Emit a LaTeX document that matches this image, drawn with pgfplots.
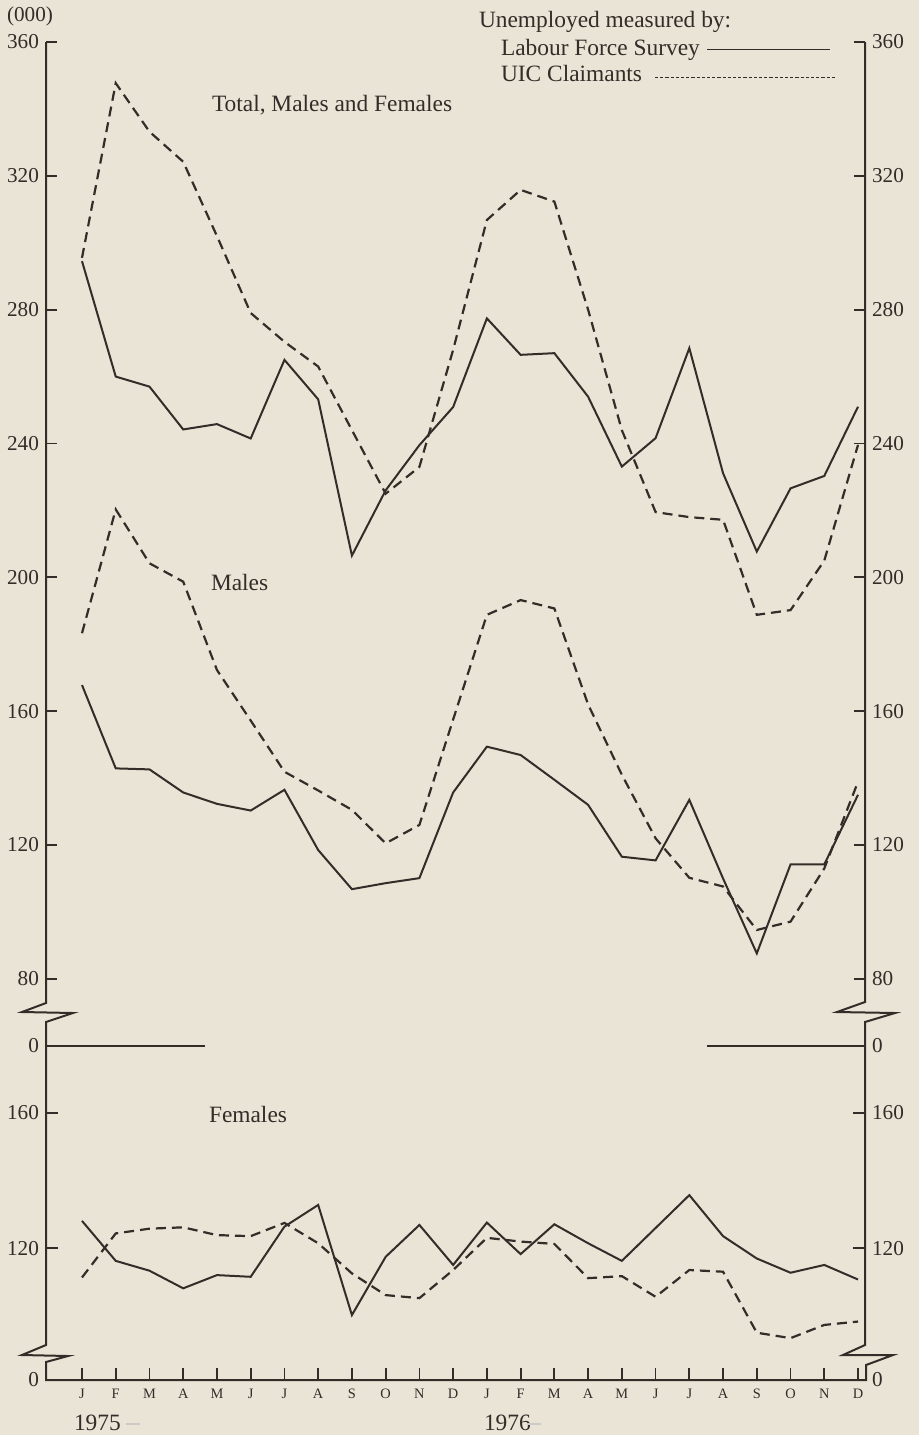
\documentclass[border=0pt]{standalone}
\usepackage{pgfplots}
\usepackage{pgfplotstable}
\pgfplotsset{compat=1.18}
\usepackage{fontspec}
\setmainfont{Liberation Serif}
\definecolor{paper}{RGB}{234,228,214}
\definecolor{ink}{RGB}{50,45,41}
\newcommand\ft{\fontsize{11.7}{13.5}\selectfont}
\newcommand\fn{\fontsize{10.6}{12}\selectfont}

% m: month index (0 = Jan 1975 ... 23 = Dec 1976)
% tl/tu: total LFS / UIC; ml/mu: males; fl/fu: females (thousands)
\pgfplotstableread{
m  tl    tu    ml    mu    fl    fu
0  294.5 295.5 167.8 183.3 128.1 111.4
1  260.0 347.7 142.9 220.3 116.3 124.4
2  257.0 333.2 142.6 204.2 113.4 125.8
3  244.2 324.2 135.7 198.7 108.2 126.2
4  245.8 302.0 132.3 172.3 112.1 123.9
5  241.5 279.0 130.3 157.2 111.6 123.6
6  265.0 270.4 136.5 141.9 126.4 127.5
7  253.2 263.0 118.5 136.3 132.8 121.5
8  206.5 244.0 106.8 130.5 100.3 112.6
9  226.0 225.0 108.6 120.5 117.5 106.2
10 239.5 233.0 110.1 126.0 126.9 105.3
11 250.9 268.0 135.7 157.5 115.1 113.6
12 277.4 306.8 149.4 188.8 127.6 123.1
13 266.5 315.8 146.9 193.2 118.3 122.0
14 267.0 312.3 139.5 190.7 127.1 121.3
15 254.0 280.0 132.0 162.0 121.5 111.2
16 233.1 244.0 116.5 141.0 116.3 111.8
17 241.6 219.5 115.4 122.0 126.0 105.7
18 268.5 218.0 133.5 110.2 135.7 113.6
19 231.1 217.2 110.0 107.6 123.6 113.1
20 207.7 188.8  87.6  94.6 117.0  95.1
21 226.6 190.2 114.2  97.1 112.8  93.5
22 230.3 205.0 114.2 113.0 115.1  97.4
23 251.0 239.6 135.0 138.9 110.8  98.4
}\data

\pgfplotsset{
  panel/.style={
    scale only axis, width=409.5pt,
    xmin=-1.067, xmax=23.207,
    axis line style={draw=none},
    tick align=inside,
    every tick/.style={ink, line width=0.9pt},
    yticklabel style={font=\fn, text=ink},
    xticklabel style={text=ink},
    /pgf/number format/assume math mode=true,
    clip=false,
  },
  lfs/.style={ink, line width=1pt, line join=miter},
  uic/.style={ink, line width=1.1pt, dash pattern=on 5pt off 3pt},
}

\begin{document}
\begin{tikzpicture}
\fill[paper] (0,0) rectangle (459.5pt,-717.5pt);

% ---------- upper panel: total and males ----------
\begin{axis}[panel,
  at={(23pt,-21pt)}, anchor=north west, height=481.8pt,
  ymin=72, ymax=360,
  xtick=\empty,
  ytick={80,120,...,360},
  ytick pos=both, yticklabel pos=left,
  major tick length=5.5pt,
]
\addplot[lfs] table[x=m,y=tl]{\data};
\addplot[uic] table[x=m,y=tu]{\data};
\addplot[lfs] table[x=m,y=ml]{\data};
\addplot[uic] table[x=m,y=mu]{\data};
\end{axis}
\begin{axis}[panel,
  at={(23pt,-21pt)}, anchor=north west, height=481.8pt,
  ymin=72, ymax=360,
  xtick=\empty,
  ytick={80,120,...,360},
  ytick pos=right, yticklabel pos=right,
  major tick length=0pt,
]
\addplot[draw=none] coordinates {(0,100)};
\end{axis}

% ---------- lower panel: females ----------
\begin{axis}[panel,
  at={(23pt,-523pt)}, anchor=north west, height=167pt,
  ymin=81.15, ymax=179.7,
  xtick={0,...,23},
  xticklabels={J,F,M,A,M,J,J,A,S,O,N,D,J,F,M,A,M,J,J,A,S,O,N,D},
  xtick pos=left,
  xticklabel style={font=\fontsize{7.2}{8}\selectfont, yshift=-1pt},
  ytick={120,160},
  extra y ticks={81.15,179.7},
  extra y tick labels={0,0},
  extra y tick style={major tick length=0pt},
  ytick pos=both, yticklabel pos=left,
  major tick length=6pt,
]
\addplot[lfs] table[x=m,y=fl]{\data};
\addplot[uic] table[x=m,y=fu]{\data};
\end{axis}
\begin{axis}[panel,
  at={(23pt,-523pt)}, anchor=north west, height=167pt,
  ymin=81.15, ymax=179.7,
  xtick=\empty,
  ytick={120,160},
  extra y ticks={81.15,179.7},
  extra y tick labels={0,0},
  ytick pos=right, yticklabel pos=right,
  major tick length=0pt,
]
\addplot[draw=none] coordinates {(0,100)};
\end{axis}

% ---------- frame with scale breaks, texts ----------
\begin{scope}[x=0.5pt, y=-0.5pt, ink, line width=1pt, line join=miter]
\draw (46,42) -- (46,1003) -- (22,1012) -- (73,1013) -- (46,1022)
  -- (46,1345) -- (22,1355) -- (68,1356) -- (46,1362) -- (46,1380)
  -- (866,1380) -- (866,1365) -- (893,1355) -- (843,1355) -- (865,1345)
  -- (865,1022) -- (895,1013) -- (837,1012) -- (865,1002) -- (865,42);
\draw (46,1046) -- (205,1046);
\draw (707,1046) -- (865,1046);

\begin{scope}[every node/.style={inner sep=0pt, text=ink, font=\ft}]
\node[anchor=base west] at (211,111) {Total, Males and Females};
\node[anchor=base west] at (210,590) {Males};
\node[anchor=base west] at (208,1122) {Females};
\node[anchor=base west] at (478,27.5) {Unemployed measured by:};
\node[anchor=base west] at (500,55) {Labour Force Survey};
\node[anchor=base west] at (500,81) {UIC Claimants};
\node[font=\fn] at (30,16) {(000)};
\node[anchor=base west] at (73,1430) {1975};
\node[anchor=base west] at (483,1430) {1976};
\end{scope}
\draw[line width=0.5pt] (707,49.5) -- (830,49.5);
\draw[line width=0.6pt, dash pattern=on 1.6pt off 1pt] (655,77.5) -- (837,77.5);
\draw[ink!25, line width=0.7pt] (126,1424) -- (140,1424);
\draw[ink!25, line width=0.7pt] (527,1424) -- (541,1424);
\end{scope}

\pgfresetboundingbox
\path[use as bounding box] (0,0) rectangle (459.5pt,-717.5pt);
\end{tikzpicture}
\end{document}
